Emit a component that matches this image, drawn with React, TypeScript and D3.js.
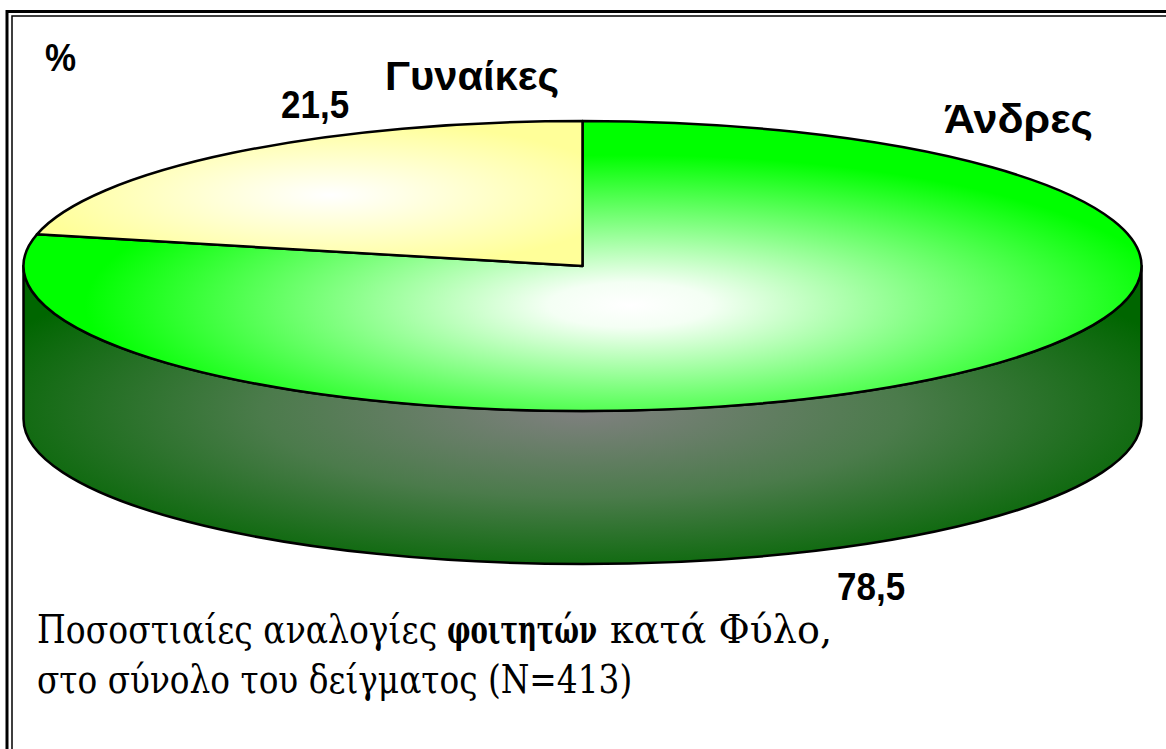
import React, { useLayoutEffect, useRef, useState } from "react";
import * as d3 from "d3";

const categories = ["Άνδρες", "Γυναίκες"];
const values = [78.5, 21.5];
const valueLabels = ["78,5", "21,5"];
const unitLabel = "%";
const captionLine1 = ["Ποσοστιαίες αναλογίες", "φοιτητών", "κατά Φύλο,"];
const captionLine2 = "στο σύνολο του δείγματος (N=413)";

const W = 1166;
const H = 749;

export default function App() {
  const cx = 582.5;
  const cy = 266;
  const rx = 559;
  const ry = 145;
  const depth = 153;

  const pie = d3
    .pie<number>()
    .sort(null)
    .startAngle(0)
    .endAngle(2 * Math.PI)
    .value((d) => d);
  const arcs = pie(values);

  const pt = (a: number, dy = 0): [number, number] => [
    cx + rx * Math.sin(a),
    cy - ry * Math.cos(a) + dy,
  ];

  const topPath = (a0: number, a1: number) => {
    const p = d3.path();
    const [x0, y0] = pt(a0);
    const [x1, y1] = pt(a1);
    p.moveTo(cx, cy);
    p.lineTo(x0, y0);
    const large = a1 - a0 > Math.PI ? 1 : 0;
    return `${p.toString()} A ${rx} ${ry} 0 ${large} 1 ${x1} ${y1} Z`;
  };

  const sidePath = (a0: number, a1: number) => {
    const s = Math.max(a0, Math.PI / 2);
    const e = Math.min(a1, (3 * Math.PI) / 2);
    if (e <= s) return null;
    const [x0, y0] = pt(s);
    const [x1, y1] = pt(e);
    const [bx1, by1] = pt(e, depth);
    const [bx0, by0] = pt(s, depth);
    return `M ${x0} ${y0} A ${rx} ${ry} 0 0 1 ${x1} ${y1} L ${bx1} ${by1} A ${rx} ${ry} 0 0 0 ${bx0} ${by0} Z`;
  };

  const topFills = ["url(#gTopGreen)", "url(#gTopYellow)"];
  const sideFills = ["url(#gSideGreen)", "#cccc77"];

  const labelStyle = { fontFamily: "'Liberation Sans', Arial, sans-serif", fontWeight: 700, fontSize: "35px" };
  const captionStyle = { fontFamily: "'DejaVu Serif', serif", fontSize: "35px" };
  const captionBold = { ...captionStyle, fontWeight: 700 };

  // caption segments: [text, x, baseline, target width, style]
  const seg: [string, number, number, number, any][] = [
    [captionLine1[0], 37, 643, 400, captionStyle],
    [captionLine1[1], 447, 643, 150, captionBold],
    [captionLine1[2], 610, 643, 222, captionStyle],
    [captionLine2, 37, 693, 595, captionStyle],
  ];

  const refs = useRef<(SVGTextElement | null)[]>([]);
  const [sx, setSx] = useState<number[]>(seg.map(() => 0.85));
  useLayoutEffect(() => {
    const next = seg.map((s, i) => {
      const el = refs.current[i];
      const len = el ? el.getComputedTextLength() : 0;
      return len > 0 ? s[3] / len : 0.85;
    });
    setSx(next);
  }, []);

  return (
    <svg
      width={W}
      height={H}
      style={{ position: "absolute", left: 0, top: 0, background: "#fff" }}
    >
      <defs>
        <radialGradient
          id="gTopGreen"
          gradientUnits="userSpaceOnUse"
          cx={0}
          cy={0}
          r={1}
          gradientTransform="translate(630 305) scale(545 150)"
        >
          <stop offset="0" stopColor="#ffffff" />
          <stop offset="0.15" stopColor="#f4fff4" />
          <stop offset="0.55" stopColor="#80ff80" />
          <stop offset="1" stopColor="#00ff00" />
        </radialGradient>
        <radialGradient
          id="gTopYellow"
          gradientUnits="userSpaceOnUse"
          cx={0}
          cy={0}
          r={1}
          gradientTransform="translate(330 195) scale(300 75)"
        >
          <stop offset="0" stopColor="#ffffff" />
          <stop offset="0.25" stopColor="#ffffe6" />
          <stop offset="1" stopColor="#ffff99" />
        </radialGradient>
        <radialGradient
          id="gSideGreen"
          gradientUnits="userSpaceOnUse"
          cx={0}
          cy={0}
          r={1}
          gradientTransform="translate(582 410) scale(640 175)"
        >
          <stop offset="0" stopColor="#808080" />
          <stop offset="0.5" stopColor="#4b7b4b" />
          <stop offset="1" stopColor="#006600" />
        </radialGradient>
      </defs>

      {/* frame */}
      <rect x={7} y={11.5} width={W + 20} height={H + 20} fill="none" stroke="#000" strokeWidth={3} />
      <rect x={12} y={16} width={W + 20} height={H + 20} fill="none" stroke="#000" strokeWidth={1.5} />

      {/* sides */}
      {arcs.map((a, i) => {
        const d = sidePath(a.startAngle, a.endAngle);
        return d ? (
          <path key={"s" + i} d={d} fill={sideFills[i]} stroke="#000" strokeWidth={2.5} strokeLinejoin="round" />
        ) : null;
      })}

      {/* tops */}
      {arcs.map((a, i) => (
        <path
          key={"t" + i}
          d={topPath(a.startAngle, a.endAngle)}
          fill={topFills[i]}
          stroke="#000"
          strokeWidth={2.5}
          strokeLinejoin="round"
        />
      ))}

      {/* labels */}
      <g fill="#000">
        <text style={labelStyle} transform="translate(45 71) scale(1 1.12)">{unitLabel}</text>
        <text style={labelStyle} transform="translate(385 90) scale(1.19 1.15)">{categories[1]}</text>
        <text style={labelStyle} transform="translate(281 118) scale(1 1.12)">{valueLabels[1]}</text>
        <text style={labelStyle} transform="translate(944 133) scale(1.23 1.15)">{categories[0]}</text>
        <text style={labelStyle} transform="translate(837 600) scale(1 1.12)">{valueLabels[0]}</text>
      </g>

      {/* caption */}
      <g fill="#000">
        {seg.map(([t, x, y, , st], i) => (
          <text
            key={"c" + i}
            ref={(el) => {
              refs.current[i] = el;
            }}
            style={st}
            transform={`translate(${x} ${y}) scale(${sx[i]} 1.12)`}
          >
            {t}
          </text>
        ))}
      </g>
    </svg>
  );
}
